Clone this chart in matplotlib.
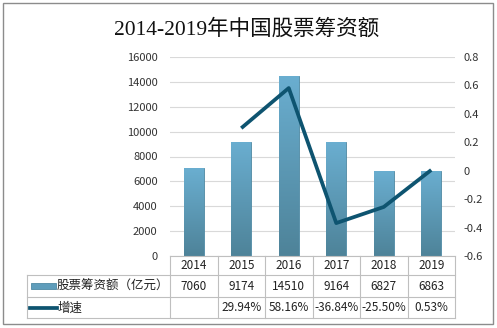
import numpy as np
import matplotlib.pyplot as plt
from matplotlib.patches import Rectangle
from matplotlib.colors import LinearSegmentedColormap

plt.rcParams['font.family'] = ['Noto Sans CJK SC', 'DejaVu Sans']

years = ['2014', '2015', '2016', '2017', '2018', '2019']
amount = [7060, 9174, 14510, 9164, 6827, 6863]
growth = [np.nan, 0.2994, 0.5816, -0.3684, -0.2550, 0.0053]
growth_labels = ['', '29.94%', '58.16%', '-36.84%', '-25.50%', '0.53%']
bar_name = '股票筹资额（亿元）'
line_name = '增速'
title = '2014-2019年中国股票筹资额'

W, H = 497, 328
fig = plt.figure(figsize=(W / 100, H / 100), dpi=100)

# plot area in pixels
px_l, px_r, px_t, px_b = 170, 455, 57, 256
ax = fig.add_axes([px_l / W, 1 - px_b / H, (px_r - px_l) / W, (px_b - px_t) / H])
x = np.arange(len(years))
ax.set_yticks(np.arange(0, 16001, 2000))
ax.grid(axis='y', color='#d9d9d9', lw=0.8)
ax.set_axisbelow(True)
ax.set_xticks([])
ax.tick_params(axis='y', length=0, labelsize=8, labelcolor='#333333', pad=9)
for s in ['left', 'right', 'top']:
    ax.spines[s].set_visible(False)
ax.spines['bottom'].set_color('#bfbfbf')

bars = ax.bar(x, amount, width=0.42, color='#5f9dbb', edgecolor='#4f8aa3', lw=0.6, zorder=2)
cmap = LinearSegmentedColormap.from_list('b', ['#4e8399', '#6aaed0'])
grad = np.linspace(0, 1, 100).reshape(-1, 1)
for b in bars:
    bx, bw, bh = b.get_x(), b.get_width(), b.get_height()
    im = ax.imshow(grad, cmap=cmap, origin='lower', aspect='auto',
                   extent=[bx, bx + bw, 0, bh], zorder=2.5)
    im.set_clip_path(b)
ax.set_xlim(-0.5, len(years) - 0.5)
ax.set_ylim(0, 16000)

ax2 = ax.twinx()
rticks = np.round(np.arange(-0.6, 0.81, 0.2), 1)
ax2.set_ylim(-0.6, 0.8)
ax2.set_yticks(rticks)
ax2.set_yticklabels(['0' if abs(v) < 1e-9 else f'{v:g}' for v in rticks])
ax2.tick_params(axis='y', length=0, labelsize=8, labelcolor='#333333', pad=6)
for s in ax2.spines.values():
    s.set_visible(False)
ax2.plot(x, growth, color='#0e5470', lw=2.7, solid_capstyle='butt', zorder=3)

# overlay in pixel coordinates for title and border
ov = fig.add_axes([0, 0, 1, 1], zorder=-1)
ov.set_xlim(0, W)
ov.set_ylim(H, 0)
ov.axis('off')
ov.add_patch(Rectangle((3, 3), 490, 321, fill=False, ec='#8c8c8c', lw=1))
ov.text(W / 2 - 2, 30, title, ha='center', va='center', fontsize=15.5,
        family=['Liberation Serif', 'Noto Sans CJK SC'], color='#111111')

# data table under the plot
ov2 = fig.add_axes([0, 0, 1, 1])
ov2.set_xlim(0, W)
ov2.set_ylim(H, 0)
ov2.axis('off')
ov2.patch.set_alpha(0)
col_w = (px_r - px_l) / len(years)
rows = [256, 275, 297, 318]
lc = '#bfbfbf'
tab_l = 27
for yy in rows[1:]:
    ov2.plot([tab_l, px_r], [yy, yy], color=lc, lw=0.8)
for i in range(len(years) + 1):
    xx = px_l + i * col_w
    ov2.plot([xx, xx], [rows[0], rows[-1]], color=lc, lw=0.8)
ov2.plot([tab_l, tab_l], [rows[1], rows[-1]], color=lc, lw=0.8)

for i, yr in enumerate(years):
    cx = px_l + (i + 0.5) * col_w
    ov2.text(cx, (rows[0] + rows[1]) / 2, yr, ha='center', va='center', fontsize=8.5, color='#222222')
    ov2.text(cx, (rows[1] + rows[2]) / 2, str(amount[i]), ha='center', va='center', fontsize=8.5, color='#222222')
    ov2.text(cx, (rows[2] + rows[3]) / 2, growth_labels[i], ha='center', va='center', fontsize=8.5, color='#222222')

ov2.add_patch(Rectangle((31, 283), 25, 6, fc='#5f9dbb', ec='#4f8aa3', lw=0.6))
ov2.text(57, 286, bar_name, ha='left', va='center', fontsize=9, color='#222222')
ov2.plot([30, 57], [308, 308], color='#0e5470', lw=2.7)
ov2.text(58, 308, line_name, ha='left', va='center', fontsize=9, color='#222222')

fig.savefig('out.png', dpi=100)
